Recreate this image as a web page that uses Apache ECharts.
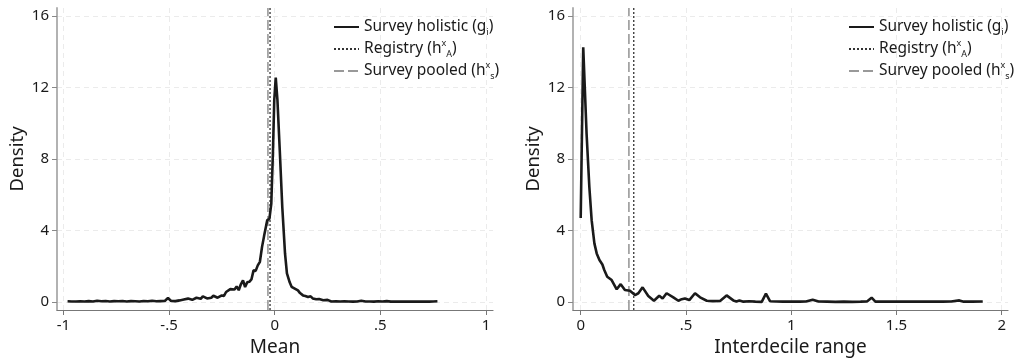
<!DOCTYPE html>
<html><head><meta charset="utf-8">
<script src="https://cdn.jsdelivr.net/npm/echarts@6/dist/echarts.min.js"></script>
<style>html,body{margin:0;padding:0;background:#fff}#c{width:1020px;height:362px}</style>
</head><body><div id="c"></div>
<script>
// ---- data ----
const meanX = [-0.98,-0.96,-0.94,-0.92,-0.90,-0.88,-0.86,-0.84,-0.82,-0.80,-0.78,-0.76,-0.74,-0.72,-0.70,-0.68,-0.66,-0.64,-0.62,-0.60,-0.58,-0.56,-0.54,-0.52,-0.505,-0.49,-0.47,-0.45,-0.43,-0.41,-0.39,-0.37,-0.35,-0.34,-0.32,-0.30,-0.29,-0.27,-0.25,-0.24,-0.23,-0.21,-0.19,-0.18,-0.17,-0.16,-0.15,-0.14,-0.13,-0.12,-0.11,-0.10,-0.09,-0.08,-0.07,-0.06,-0.05,-0.04,-0.035,-0.025,-0.016,-0.008,-0.002,0.005,0.013,0.024,0.036,0.049,0.058,0.071,0.08,0.095,0.11,0.12,0.134,0.145,0.158,0.17,0.18,0.197,0.21,0.23,0.25,0.268,0.29,0.31,0.33,0.35,0.37,0.39,0.41,0.43,0.45,0.47,0.49,0.51,0.53,0.55,0.57,0.59,0.61,0.63,0.65,0.67,0.69,0.71,0.73,0.75,0.77];
const meanY = [0.04,0.03,0.03,0.04,0.03,0.05,0.03,0.07,0.04,0.06,0.03,0.05,0.04,0.06,0.03,0.05,0.04,0.03,0.06,0.04,0.07,0.04,0.05,0.06,0.22,0.06,0.05,0.09,0.14,0.19,0.12,0.24,0.18,0.32,0.2,0.24,0.35,0.24,0.37,0.34,0.56,0.72,0.7,0.87,0.66,0.99,1.21,0.84,1.1,1.13,1.26,1.77,1.74,2.05,2.25,3.07,3.7,4.3,4.58,4.65,5.5,8.5,11.3,12.55,11.3,8.5,5.3,2.7,1.6,1.1,0.85,0.75,0.65,0.5,0.37,0.34,0.28,0.32,0.2,0.15,0.17,0.1,0.12,0.03,0.04,0.03,0.04,0.03,0.02,0.03,0.07,0.03,0.03,0.02,0.04,0.03,0.05,0.02,0.03,0.02,0.02,0.03,0.02,0.02,0.03,0.02,0.02,0.03,0.04];
const idrX = [0.0,0.012,0.028,0.041,0.052,0.065,0.076,0.089,0.103,0.112,0.126,0.147,0.171,0.19,0.21,0.234,0.258,0.274,0.294,0.321,0.348,0.373,0.389,0.408,0.44,0.464,0.48,0.495,0.516,0.543,0.567,0.599,0.63,0.662,0.693,0.725,0.74,0.754,0.773,0.80,0.83,0.86,0.88,0.90,0.93,0.96,1.0,1.04,1.07,1.102,1.13,1.17,1.21,1.25,1.29,1.33,1.36,1.382,1.40,1.44,1.48,1.52,1.56,1.60,1.64,1.68,1.72,1.76,1.799,1.82,1.86,1.91];
const idrY = [4.7,14.25,9.4,6.44,4.58,3.28,2.72,2.35,2.1,1.79,1.41,1.23,0.71,1.0,0.67,0.63,0.39,0.49,0.82,0.34,0.07,0.35,0.2,0.49,0.26,0.07,0.16,0.2,0.11,0.49,0.26,0.07,0.05,0.06,0.37,0.09,0.03,0.09,0.02,0.04,0.02,0.01,0.47,0.04,0.03,0.02,0.03,0.02,0.03,0.13,0.03,0.02,0.01,0.02,0.01,0.02,0.03,0.24,0.02,0.02,0.03,0.02,0.02,0.03,0.02,0.02,0.02,0.03,0.09,0.02,0.02,0.03];
const meanRegistry = -0.022, meanPooled = -0.032;
const idrRegistry = 0.252, idrPooled = 0.229;
const meanTicks = [-1,-0.5,0,0.5,1];
const idrTicks = [0,0.5,1,1.5,2];
const yTicks = [0,4,8,12,16];
const names = ['Survey holistic','Registry','Survey pooled'];
const legendLabels = {
  'Survey holistic':'Survey holistic (g{sub|i})',
  'Registry':'Registry (h{sup|x}{sub|A})',
  'Survey pooled':'Survey pooled (h{sup|x}{sub|s})'
};
// ---- chart ----
const FONT = 'Noto Sans';
const YMIN = -0.447, YMAX = 16.447;
const fmt = v => { if (v === 0) return '0'; let s = String(v); return s.replace(/^0\./,'.').replace(/^-0\./,'-.'); };
const zip = (xs, ys) => xs.map((x,i)=>[x, ys[i]]);
function xAxisCfg(idx, min, max, ticks, title){
  return {type:'value', gridIndex:idx, min:min, max:max,
    name:title, nameLocation:'middle', nameGap:27,
    nameTextStyle:{fontFamily:FONT,fontSize:19,color:'#1a1a1a'},
    axisLine:{show:true,onZero:false,lineStyle:{color:'#777',width:1.2}},
    axisTick:{show:true,length:5,customValues:ticks,lineStyle:{color:'#777'}},
    axisLabel:{customValues:ticks,formatter:fmt,margin:8,fontFamily:FONT,fontSize:15,color:'#1a1a1a'},
    splitLine:{show:true,lineStyle:{color:'#ebebeb',type:[5,4],width:1}}};
}
function yAxisCfg(idx){
  return {type:'value', gridIndex:idx, min:YMIN, max:YMAX,
    name:'Density', nameLocation:'middle', nameGap:30,
    nameTextStyle:{fontFamily:FONT,fontSize:18.5,color:'#1a1a1a'},
    axisLine:{show:true,onZero:false,lineStyle:{color:'#aaa',width:1.8}},
    axisTick:{show:true,length:5,customValues:yTicks,lineStyle:{color:'#888'}},
    axisLabel:{customValues:yTicks,margin:8,fontFamily:FONT,fontSize:15,color:'#1a1a1a'},
    splitLine:{show:true,lineStyle:{color:'#ebebeb',type:[5,4],width:1}}};
}
function vline(name, x, idx, style){
  return {name:name, type:'line', xAxisIndex:idx, yAxisIndex:idx, symbol:'none',
    data:[[x,YMIN],[x,YMAX]], lineStyle:style, itemStyle:{color:style.color}, z:3};
}
const dotStyle = {color:'#333',width:1.3,type:[2,2]};
const dashStyle = {color:'#999',width:1.6,type:[10,4]};
const solidStyle = {color:'#1a1a1a',width:2.6};
function legendCfg(left){
  return {left:left, top:17, orient:'vertical', padding:0, itemGap:2, itemWidth:25, itemHeight:15,
    data:names, selectedMode:false,
    itemStyle:{opacity:0},
    formatter:n=>legendLabels[n],
    textStyle:{fontFamily:FONT,fontSize:15.5,lineHeight:20,color:'#1a1a1a',
      rich:{sub:{fontFamily:FONT,fontSize:9,verticalAlign:'bottom',color:'#1a1a1a'},
            sup:{fontFamily:FONT,fontSize:9,verticalAlign:'top',color:'#1a1a1a'}}}};
}
const chart = echarts.init(document.getElementById('c'), null, {renderer:'canvas'});
chart.setOption({
  animation:false,
  backgroundColor:'#fff',
  grid:[{left:57,right:527,top:8,bottom:52},{left:573,right:12,top:8,bottom:52}],
  xAxis:[xAxisCfg(0,-1.030,1.033,meanTicks,'Mean'), xAxisCfg(1,-0.0366,2.030,idrTicks,'Interdecile range')],
  yAxis:[yAxisCfg(0), yAxisCfg(1)],
  legend:[legendCfg(333), legendCfg(848)],
  series:[
    {name:'Survey holistic',type:'line',xAxisIndex:0,yAxisIndex:0,symbol:'none',data:zip(meanX,meanY),lineStyle:solidStyle,itemStyle:{color:solidStyle.color},z:4},
    vline('Registry',meanRegistry,0,dotStyle),
    vline('Survey pooled',meanPooled,0,dashStyle),
    {name:'Survey holistic',type:'line',xAxisIndex:1,yAxisIndex:1,symbol:'none',data:zip(idrX,idrY),lineStyle:solidStyle,itemStyle:{color:solidStyle.color},z:4},
    vline('Registry',idrRegistry,1,dotStyle),
    vline('Survey pooled',idrPooled,1,dashStyle)
  ]
});
</script></body></html>
